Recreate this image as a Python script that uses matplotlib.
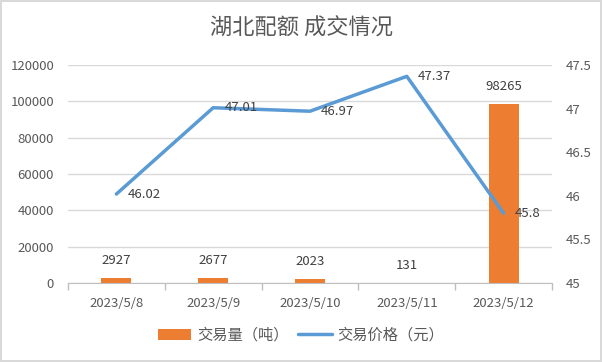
import matplotlib.pyplot as plt
import numpy as np

plt.rcParams['font.family'] = ['Noto Sans CJK SC', 'DejaVu Sans']

# data
dates = ['2023/5/8', '2023/5/9', '2023/5/10', '2023/5/11', '2023/5/12']
volume = [2927, 2677, 2023, 131, 98265]
price = [46.02, 47.01, 46.97, 47.37, 45.8]

bar_color = '#ED7D31'
line_color = '#5B9BD5'
text_color = '#595959'

fig = plt.figure(figsize=(6.02, 3.62), dpi=100)
fig.patch.set_edgecolor('#D9D9D9')
fig.patch.set_linewidth(1.5)
ax1 = fig.add_axes([68 / 602, 1 - 283 / 362, 484 / 602, 218 / 362])
ax2 = ax1.twinx()

x = np.arange(len(dates))

# bars for volume
ax1.bar(x, volume, width=0.31, color=bar_color, zorder=2, label='交易量（吨）')
for xi, v in zip(x, volume):
    ax1.annotate(str(v), (xi, v), xytext=(0, 8), textcoords='offset points',
                 ha='center', va='bottom', fontsize=9.5, color='#404040')

ax1.set_xlim(-0.5, len(dates) - 0.5)
ax1.set_ylim(0, 120000)
ax1.set_yticks(np.arange(0, 120001, 20000))
ax1.yaxis.grid(True, color='#D9D9D9', linewidth=1, zorder=0)
ax1.set_axisbelow(True)
ax1.set_xticks(x)
ax1.set_xticklabels(dates)
ax1.tick_params(axis='x', length=0, pad=10, labelsize=9.5, labelcolor=text_color)
ax1.tick_params(axis='y', length=0, pad=10, labelsize=9.5, labelcolor=text_color)
# category boundary ticks
ax1.set_xticks(np.arange(-0.5, len(dates)), minor=True)
ax1.tick_params(axis='x', which='minor', length=5, color='#BFBFBF', width=1)
for s in ['top', 'left', 'right']:
    ax1.spines[s].set_visible(False)
ax1.spines['bottom'].set_color('#BFBFBF')

# line for price
ax2.plot(x, price, color=line_color, linewidth=2.5, solid_capstyle='round',
         label='交易价格（元）', zorder=3)
for xi, p in zip(x, price):
    ax2.annotate(str(p), (xi, p), xytext=(8, 0), textcoords='offset points',
                 ha='left', va='center', fontsize=9.5, color='#404040')
ax2.set_ylim(45, 47.5)
ax2.set_yticks([45, 45.5, 46, 46.5, 47, 47.5])
ax2.set_yticklabels(['45', '45.5', '46', '46.5', '47', '47.5'])
ax2.tick_params(axis='y', length=0, pad=10, labelsize=9.5, labelcolor=text_color)
for s in ['top', 'left', 'right', 'bottom']:
    ax2.spines[s].set_visible(False)

fig.text(0.5, 1 - 28 / 362, '湖北配额 成交情况', ha='center', va='center',
         fontsize=16, color=text_color)

h1, l1 = ax1.get_legend_handles_labels()
h2, l2 = ax2.get_legend_handles_labels()
fig.legend(h1 + h2, l1 + l2, loc='center', bbox_to_anchor=(0.5, 1 - 335 / 362),
           ncol=2, frameon=False, fontsize=11, labelcolor=text_color,
           handlelength=2.2, columnspacing=0.6, handletextpad=0.4)

fig.savefig('out.png', dpi=100)
